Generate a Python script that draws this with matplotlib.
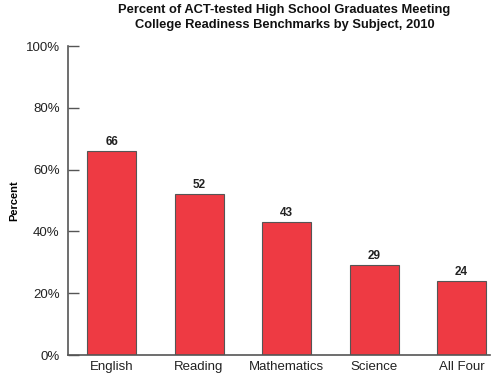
import matplotlib
matplotlib.use("Agg")
import matplotlib.pyplot as plt
from matplotlib.ticker import FuncFormatter

subjects = ["English", "Reading", "Mathematics", "Science", "All Four"]
percent = [66, 52, 43, 29, 24]

plt.rcParams["font.family"] = ["Liberation Sans", "DejaVu Sans"]

fig = plt.figure(figsize=(4.95, 3.79), dpi=100)
ax = fig.add_axes([0.1374, 0.0633, 0.8526, 0.8153])

x = range(len(subjects))
ax.bar(x, percent, width=0.56, color="#ee3a43", edgecolor="#555555", linewidth=0.8, zorder=2)
for xi, v in zip(x, percent):
    ax.text(xi, v + 1.0, f"{v}", ha="center", va="bottom", fontsize=8.5, fontweight="bold", color="#222222")

ax.set_xlim(-0.497, 4.326)
ax.set_ylim(0, 100)
ax.set_yticks(range(0, 101, 20))
ax.yaxis.set_major_formatter(FuncFormatter(lambda v, p: f"{v:.0f}%"))
ax.set_xticks(list(x))
ax.set_xticklabels(subjects)
ax.tick_params(axis="y", direction="in", length=8, width=1, color="#555555", labelsize=9.5, labelcolor="#222222", pad=6)
ax.tick_params(axis="x", length=0, labelsize=9.5, labelcolor="#222222", pad=4)
for s in ("top", "right"):
    ax.spines[s].set_visible(False)
for s in ("left", "bottom"):
    ax.spines[s].set_color("#555555")
    ax.spines[s].set_linewidth(1.2)

ax.set_ylabel("Percent", fontsize=8, fontweight="bold")
ax.yaxis.set_label_coords(-0.115, 0.5)
fig.text(0.575, 0.99, "Percent of ACT-tested High School Graduates Meeting\nCollege Readiness Benchmarks by Subject, 2010",
         ha="center", va="top", fontsize=9.3, fontweight="bold", color="#111111", linespacing=1.4)

fig.savefig("out.png", dpi=100, facecolor="white")
